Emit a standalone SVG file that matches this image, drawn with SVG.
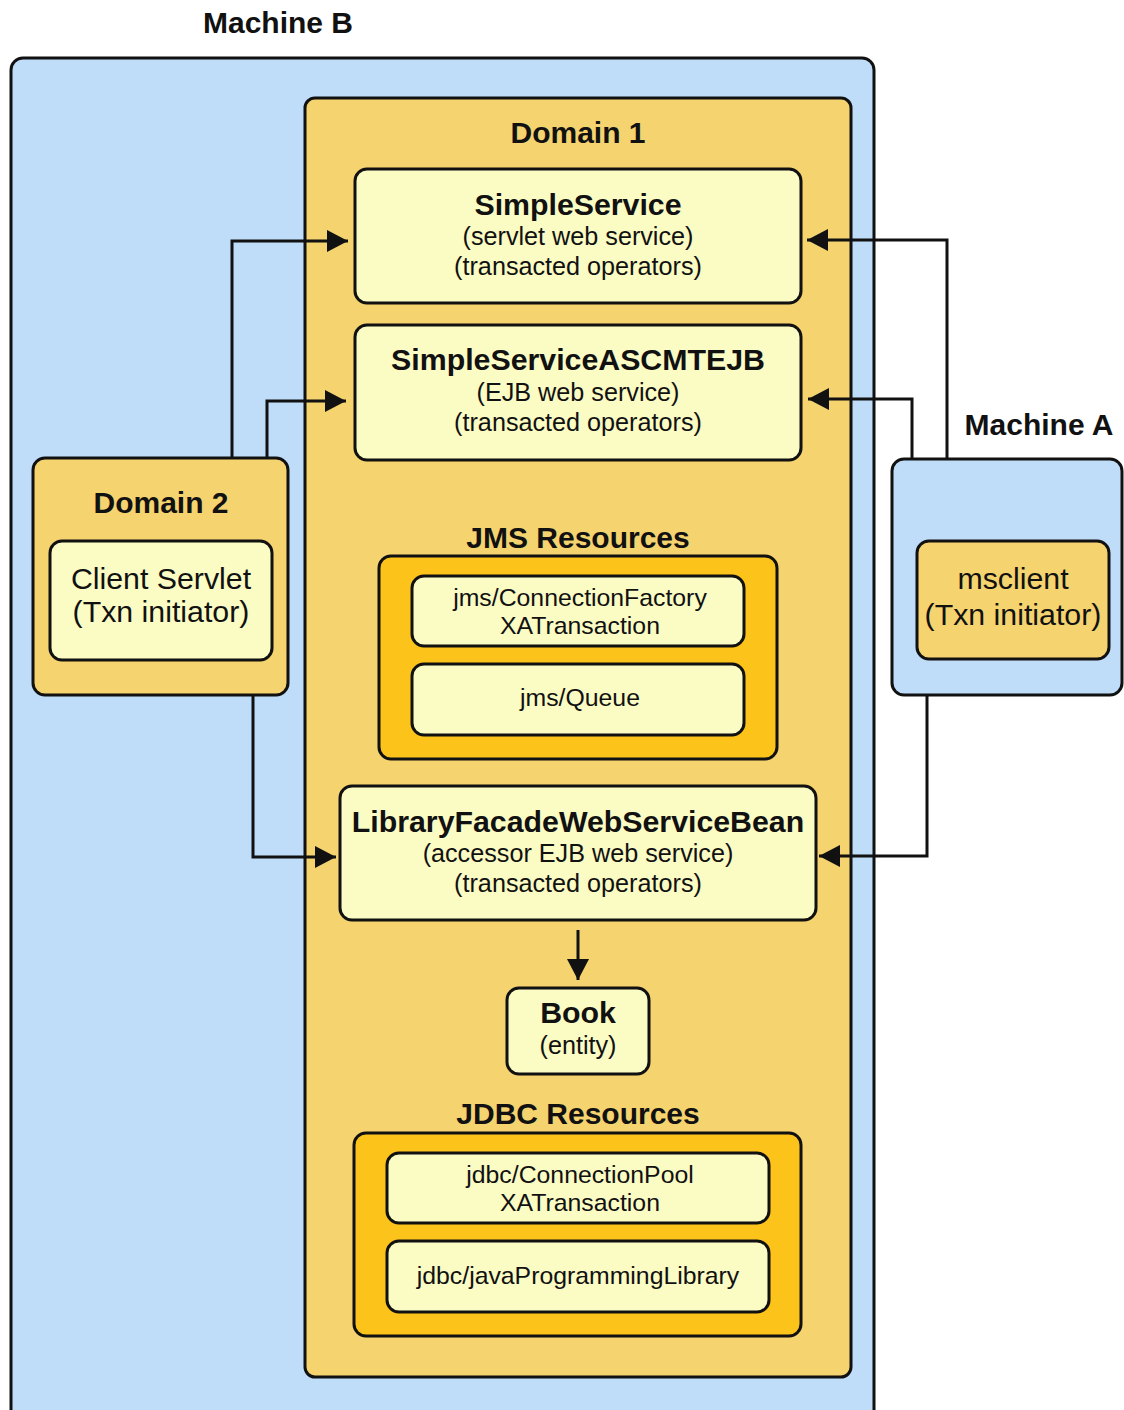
<svg xmlns="http://www.w3.org/2000/svg" width="1124" height="1410" viewBox="0 0 1124 1410">
<style>
.mach{fill:#bfdcf9;stroke:#111;stroke-width:3}
.dom{fill:#f5d36f;stroke:#111;stroke-width:3}
.res{fill:#fcc41b;stroke:#111;stroke-width:3}
.box{fill:#fbfbc4;stroke:#111;stroke-width:3}
.t{font-family:"Liberation Sans",Arial,sans-serif;fill:#111;text-anchor:middle}
.h{font-size:30px;font-weight:bold}
.n{font-size:30.3px;font-weight:bold}
.s{font-size:25.2px}
.c{font-size:30.3px}
.r{font-size:24.8px}
.con{fill:none;stroke:#111;stroke-width:3}
</style>
<defs>
<marker id="ah" markerUnits="userSpaceOnUse" markerWidth="22" markerHeight="24" refX="21" refY="12" orient="auto" viewBox="0 0 22 24">
<path d="M0,1 L21,12 L0,23 z" fill="#111"/>
</marker>
</defs>
<rect width="1124" height="1410" fill="#fff"/>
<g id="machineB">
<rect class="mach" x="11" y="58" width="863" height="1370" rx="12"/>
<text class="t h" x="278" y="33">Machine B</text>
</g>
<g id="domain1">
<rect class="dom" x="305" y="98" width="546" height="1279" rx="10"/>
<text class="t h" x="578" y="143">Domain 1</text>
</g>
<g id="simpleService">
<rect class="box" x="355" y="169" width="446" height="134" rx="12"/>
<text class="t n" x="578" y="215">SimpleService</text>
<text class="t s" x="578" y="245">(servlet web service)</text>
<text class="t s" x="578" y="275">(transacted operators)</text>
</g>
<g id="simpleServiceASCMTEJB">
<rect class="box" x="355" y="325" width="446" height="135" rx="12"/>
<text class="t n" x="578" y="370">SimpleServiceASCMTEJB</text>
<text class="t s" x="578" y="401">(EJB web service)</text>
<text class="t s" x="578" y="431">(transacted operators)</text>
</g>
<g id="domain2">
<rect class="dom" x="33" y="458" width="255" height="237" rx="12"/>
<text class="t h" x="161" y="513">Domain 2</text>
</g>
<g id="clientServlet">
<rect class="box" x="50" y="541" width="222" height="119" rx="12"/>
<text class="t c" x="161" y="589">Client Servlet</text>
<text class="t c" x="161" y="622">(Txn initiator)</text>
</g>
<g id="machineA">
<rect class="mach" x="892" y="459" width="230" height="236" rx="12"/>
<text class="t h" x="1039" y="435">Machine A</text>
</g>
<g id="msclient">
<rect class="dom" x="917" y="541" width="192" height="118" rx="12"/>
<text class="t c" x="1013" y="589">msclient</text>
<text class="t c" x="1013" y="625">(Txn initiator)</text>
</g>
<g id="jmsResources">
<text class="t h" x="578" y="548">JMS Resources</text>
<rect class="res" x="379" y="556" width="398" height="203" rx="12"/>
</g>
<g id="jmsConnectionFactory">
<rect class="box" x="412" y="576" width="332" height="70" rx="12"/>
<text class="t r" x="580" y="606">jms/ConnectionFactory</text>
<text class="t r" x="580" y="634">XATransaction</text>
</g>
<g id="jmsQueue">
<rect class="box" x="412" y="664" width="332" height="71" rx="12"/>
<text class="t r" x="580" y="706">jms/Queue</text>
</g>
<g id="libraryFacade">
<rect class="box" x="340" y="786" width="476" height="134" rx="12"/>
<text class="t n" x="578" y="832">LibraryFacadeWebServiceBean</text>
<text class="t s" x="578" y="862">(accessor EJB web service)</text>
<text class="t s" x="578" y="892">(transacted operators)</text>
</g>
<g id="book">
<rect class="box" x="507" y="988" width="142" height="86" rx="12"/>
<text class="t n" x="578" y="1023">Book</text>
<text class="t s" x="578" y="1054">(entity)</text>
</g>
<g id="jdbcResources">
<text class="t h" x="578" y="1124">JDBC Resources</text>
<rect class="res" x="354" y="1133" width="447" height="203" rx="12"/>
</g>
<g id="jdbcConnectionPool">
<rect class="box" x="387" y="1153" width="382" height="70" rx="12"/>
<text class="t r" x="580" y="1183">jdbc/ConnectionPool</text>
<text class="t r" x="580" y="1211">XATransaction</text>
</g>
<g id="jdbcLibrary">
<rect class="box" x="387" y="1241" width="382" height="71" rx="12"/>
<text class="t r" x="578" y="1284">jdbc/javaProgrammingLibrary</text>
</g>
<g id="connectors">
<path class="con" d="M232,458 V241 H348" marker-end="url(#ah)"/>
<path class="con" d="M267,458 V401 H346" marker-end="url(#ah)"/>
<path class="con" d="M253,695 V857 H336" marker-end="url(#ah)"/>
<path class="con" d="M947,459 V240 H807" marker-end="url(#ah)"/>
<path class="con" d="M912,459 V399 H808" marker-end="url(#ah)"/>
<path class="con" d="M927,695 V856 H819" marker-end="url(#ah)"/>
<path class="con" d="M578,930 V980" marker-end="url(#ah)"/>
</g>
</svg>
